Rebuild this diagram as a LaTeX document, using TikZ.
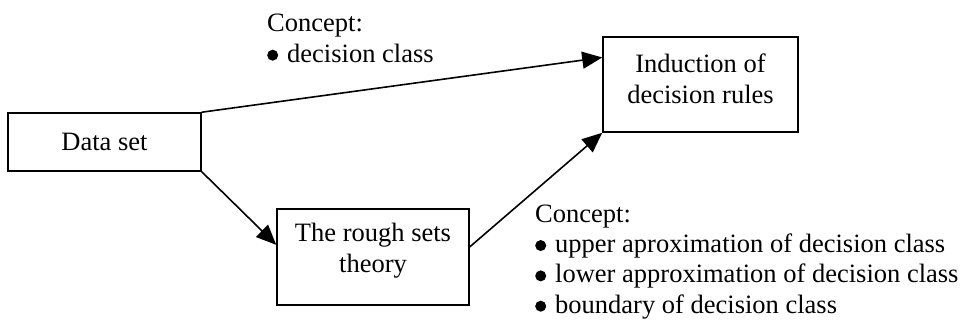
\documentclass[tikz,border=0pt]{standalone}
\usepackage{fontspec}
\setmainfont{Liberation Serif}
\usetikzlibrary{arrows.meta,calc}
\newcommand\mybul{\makebox[20pt][l]{\tikz[baseline=0pt]\fill (5.5pt,6.8pt) circle[radius=5.5pt];}}
\begin{document}
\begin{tikzpicture}[x=1pt,y=-1pt,
  box/.style={draw,line width=1.6pt,inner sep=0pt},
  txt/.style={inner sep=0pt,align=center,font=\fontsize{26.5}{31}\selectfont},
  lbl/.style={inner sep=0pt,align=left,anchor=base west,font=\fontsize{26.5}{30.33}\selectfont},
  arr/.style={line width=1.6pt,-{Triangle[length=20pt,width=17pt]}}]
\useasboundingbox (0,0) rectangle (961,324);
\begin{scope}
\clip (0,0) rectangle (961,324);
\node[box,minimum width=193pt,minimum height=58pt] (data) at (104.5,142) {};
\node[txt] (datat) at (data.center) {Data set};
\node[box,minimum width=195pt,minimum height=95pt] (ind) at (700.5,84.5) {};
\node[txt] (indt) at (700.5,78.5) {Induction of\\decision rules};
\node[box,minimum width=192pt,minimum height=96pt] (rough) at (373,257) {};
\node[txt] (rought) at (373,251) {The rough sets\\theory};
\node[lbl,font=\fontsize{26.5}{31}\selectfont] (c1) at (267,62) {Concept:\\\mybul decision class};
\node[lbl] (c2) at (535,313) {Concept:\\\mybul upper aproximation of decision class\\\mybul lower approximation of decision class\\\mybul boundary of decision class};
\draw[arr] (data.north east) -- ($(ind.north west)!0.22!(ind.south west)$);
\draw[arr] (data.south east) -- ($(rough.north west)!0.375!(rough.south west)$);
\draw[arr] ($(rough.north east)!0.396!(rough.south east)$) -- (ind.south west);
\end{scope}
\end{tikzpicture}
\end{document}
